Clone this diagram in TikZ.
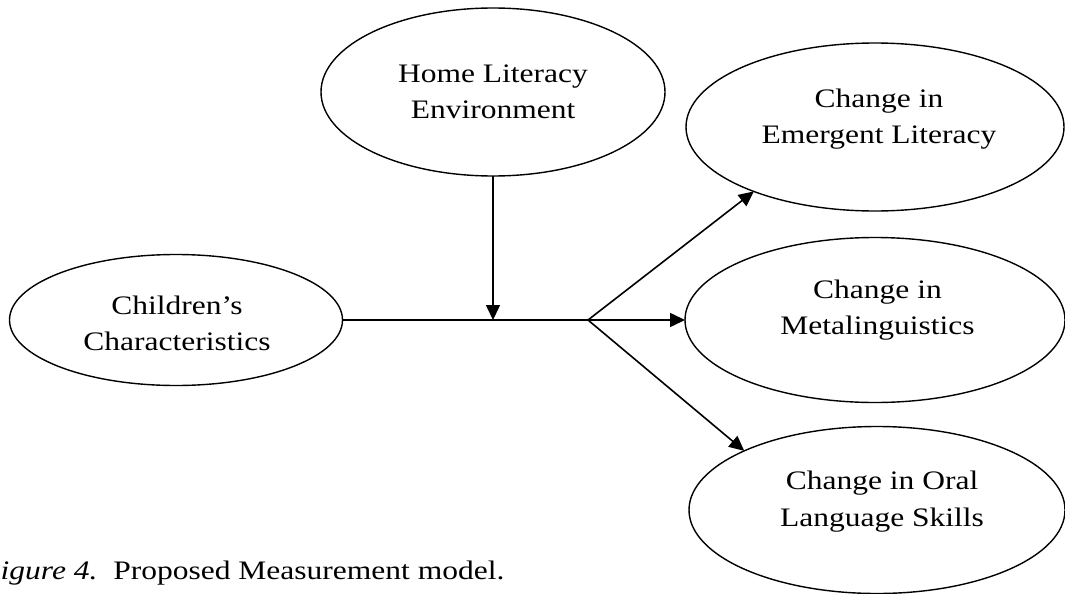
\documentclass[tikz,border=0pt]{standalone}
\usepackage{fontspec}
\setmainfont{Liberation Serif}[FakeStretch=1.18]
\usetikzlibrary{shapes.geometric,arrows.meta}
\begin{document}
\begin{tikzpicture}[x=1pt,y=-1pt,
  oval/.style={draw, ellipse, line width=1.4pt, inner sep=0pt, outer sep=0pt},
  lbl/.style={anchor=base, inner sep=0pt, font=\fontsize{26.7}{36}\selectfont},
  conn/.style={line width=1.6pt},
  arr/.style={conn, -{Triangle[length=15pt,width=14pt]}}]
\useasboundingbox (0,0) rectangle (1065,594);
\clip (0,0) rectangle (1065,594);
% ellipses
\node[oval, minimum width=344pt, minimum height=168pt] (home)  at (493,92)  {};
\node[oval, minimum width=378pt, minimum height=168pt] (emer)  at (875,127) {};
\node[oval, minimum width=380pt, minimum height=165pt] (meta)  at (875,320) {};
\node[oval, minimum width=376pt, minimum height=167pt] (oral)  at (877,510) {};
\node[oval, minimum width=333pt, minimum height=131pt] (child) at (176,320) {};
% labels
\node[lbl] (homeA)  at (493,82)  {Home Literacy};
\node[lbl] (homeB)  at (493,118) {Environment};
\node[lbl] (emerA)  at (879,107) {Change in};
\node[lbl] (emerB)  at (879,143) {Emergent Literacy};
\node[lbl] (metaA)  at (877.5,298) {Change in};
\node[lbl] (metaB)  at (877.5,334) {Metalinguistics};
\node[lbl] (oralA)  at (882,489) {Change in Oral};
\node[lbl] (oralB)  at (882,526) {Language Skills};
\node[lbl] (childA) at (177,314) {Children’s};
\node[lbl] (childB) at (177,350) {Characteristics};
% connectors
\coordinate (j) at (588,320);
\coordinate (hj) at (home.south |- j);
\draw[conn] (child.east) -- (j);
\draw[arr] (home.south) -- (hj);
\draw[arr] (j) -- (emer.208);
\draw[arr] (j) -- (meta.west);
\draw[arr] (j) -- (oral.156);
% caption (its left edge is cut off in the figure as printed)
\node[anchor=base west, inner sep=0pt, font=\fontsize{26.7}{36}\selectfont] (cap) at (0.5,579)
  {\textit{igure 4.}\hspace{15.8pt}Proposed Measurement model.};
\end{tikzpicture}
\end{document}
